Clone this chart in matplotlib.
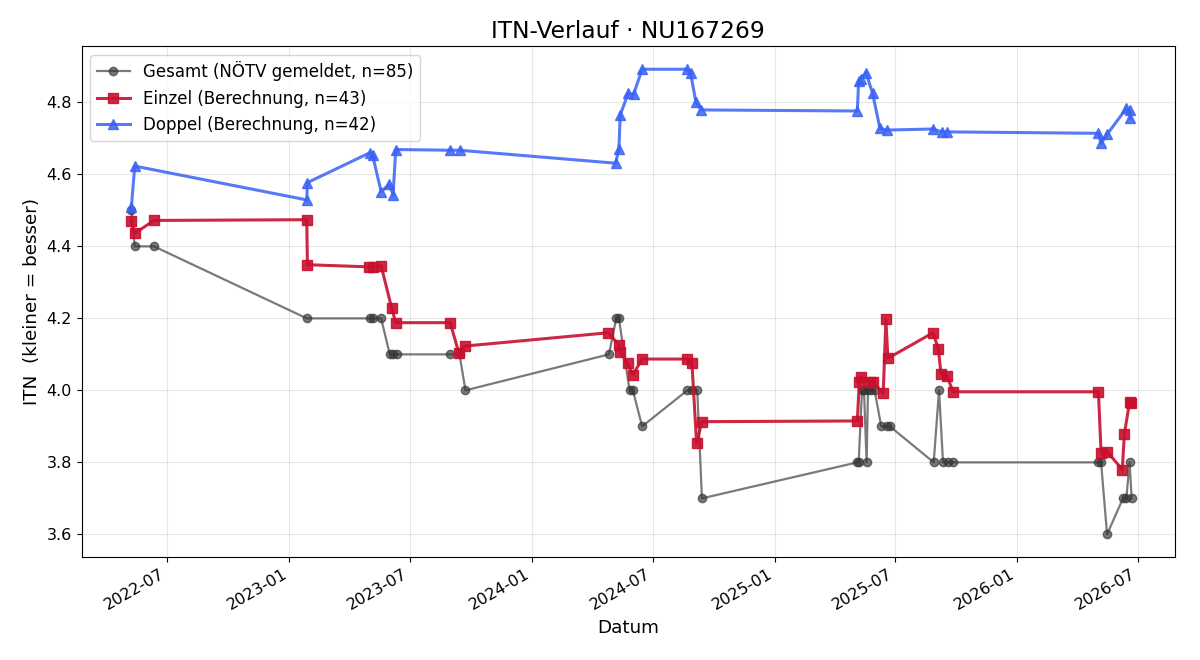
import matplotlib
matplotlib.use("Agg")
import matplotlib.pyplot as plt
import matplotlib.dates as mdates
import pandas as pd

gesamt_dates = ["2022-05-08", "2022-05-13", "2022-06-11", "2023-01-27", "2023-05-02", "2023-05-06",
                "2023-05-19", "2023-06-01", "2023-06-06", "2023-06-12", "2023-08-31", "2023-09-14",
                "2023-09-23", "2024-04-26", "2024-05-07", "2024-05-11", "2024-05-27", "2024-06-01",
                "2024-06-15", "2024-08-22", "2024-08-29", "2024-09-06", "2024-09-13", "2025-05-05",
                "2025-05-07", "2025-05-12", "2025-05-15", "2025-05-19", "2025-05-21", "2025-05-26",
                "2025-05-31", "2025-06-10", "2025-06-18", "2025-06-23", "2025-08-28", "2025-09-05",
                "2025-09-11", "2025-09-18", "2025-09-26", "2026-05-03", "2026-05-07", "2026-05-16",
                "2026-06-09", "2026-06-14", "2026-06-19", "2026-06-22"]
gesamt_vals = [4.50, 4.40, 4.40, 4.20, 4.20, 4.20,
               4.20, 4.10, 4.10, 4.10, 4.10, 4.10,
               4.00, 4.10, 4.20, 4.20, 4.00, 4.00,
               3.90, 4.00, 4.00, 4.00, 3.70, 3.80,
               3.80, 4.00, 4.00, 3.80, 4.00, 4.00,
               4.00, 3.90, 3.90, 3.90, 3.80, 4.00,
               3.80, 3.80, 3.80, 3.80, 3.80, 3.60,
               3.70, 3.70, 3.80, 3.70]

einzel_dates = ["2022-05-07", "2022-05-13", "2022-06-11", "2023-01-27", "2023-01-28", "2023-05-01",
                "2023-05-06", "2023-05-19", "2023-06-04", "2023-06-10", "2023-08-31", "2023-09-13",
                "2023-09-22", "2024-04-25", "2024-05-11", "2024-05-13", "2024-05-24", "2024-06-01",
                "2024-06-15", "2024-08-22", "2024-08-29", "2024-09-05", "2024-09-13", "2025-05-05",
                "2025-05-08", "2025-05-10", "2025-05-24", "2025-05-28", "2025-06-13", "2025-06-17",
                "2025-06-20", "2025-08-27", "2025-09-04", "2025-09-08", "2025-09-17", "2025-09-26",
                "2026-05-03", "2026-05-07", "2026-05-16", "2026-06-08", "2026-06-11", "2026-06-19",
                "2026-06-21"]
einzel_vals = [4.471, 4.436, 4.472, 4.474, 4.349, 4.343,
               4.343, 4.346, 4.228, 4.188, 4.188, 4.104,
               4.123, 4.160, 4.126, 4.107, 4.075, 4.043,
               4.087, 4.087, 4.075, 3.853, 3.913, 3.915,
               4.024, 4.038, 4.022, 4.024, 3.992, 4.197,
               4.089, 4.160, 4.115, 4.045, 4.041, 3.996,
               3.996, 3.827, 3.830, 3.780, 3.878, 3.968,
               3.964]

doppel_dates = ["2022-05-08", "2022-05-13", "2023-01-27", "2023-01-28", "2023-05-02", "2023-05-06",
                "2023-05-19", "2023-05-31", "2023-06-06", "2023-06-10", "2023-08-31", "2023-09-14",
                "2024-05-06", "2024-05-11", "2024-05-13", "2024-05-25", "2024-06-02", "2024-06-15",
                "2024-08-22", "2024-08-27", "2024-09-04", "2024-09-12", "2025-05-05", "2025-05-07",
                "2025-05-10", "2025-05-18", "2025-05-28", "2025-06-08", "2025-06-18", "2025-08-27",
                "2025-09-09", "2025-09-17", "2026-05-03", "2026-05-07", "2026-05-16", "2026-06-14",
                "2026-06-19", "2026-06-20"]
doppel_vals = [4.510, 4.623, 4.529, 4.577, 4.660, 4.654,
               4.552, 4.572, 4.544, 4.669, 4.667, 4.667,
               4.631, 4.670, 4.765, 4.825, 4.822, 4.892,
               4.892, 4.881, 4.800, 4.779, 4.776, 4.860,
               4.865, 4.882, 4.825, 4.728, 4.723, 4.726,
               4.718, 4.718, 4.714, 4.686, 4.711, 4.783,
               4.779, 4.756]

fig, ax = plt.subplots(figsize=(12, 6.6), dpi=100)
ax.plot(pd.to_datetime(gesamt_dates), gesamt_vals, marker="o", ms=6, lw=1.6,
        color="#333333", alpha=0.65, label="Gesamt (NÖTV gemeldet, n=85)")
ax.plot(pd.to_datetime(einzel_dates), einzel_vals, marker="s", ms=7, lw=2.2,
        color="#c8102e", alpha=0.9, label="Einzel (Berechnung, n=43)")
ax.plot(pd.to_datetime(doppel_dates), doppel_vals, marker="^", ms=7, lw=2.2,
        color="#3a62f5", alpha=0.85, label="Doppel (Berechnung, n=42)")

ax.set_title("ITN-Verlauf · NU167269", fontsize=16.8)
ax.set_xlabel("Datum", fontsize=13.2)
ax.set_ylabel("ITN  (kleiner = besser)", fontsize=13.2)
ax.grid(True, alpha=0.3)
ax.set_xlim(pd.Timestamp("2022-02-22"), pd.Timestamp("2026-08-26"))
ax.set_ylim(3.537, 4.956)
ax.xaxis.set_major_locator(mdates.MonthLocator(bymonth=[1, 7]))
ax.xaxis.set_major_formatter(mdates.DateFormatter("%Y-%m"))
ax.tick_params(labelsize=11.5)
ax.legend(loc="upper left", fontsize=12)
fig.autofmt_xdate()
fig.subplots_adjust(left=0.068, right=0.979, top=0.930, bottom=0.156)
fig.savefig("out.png")
